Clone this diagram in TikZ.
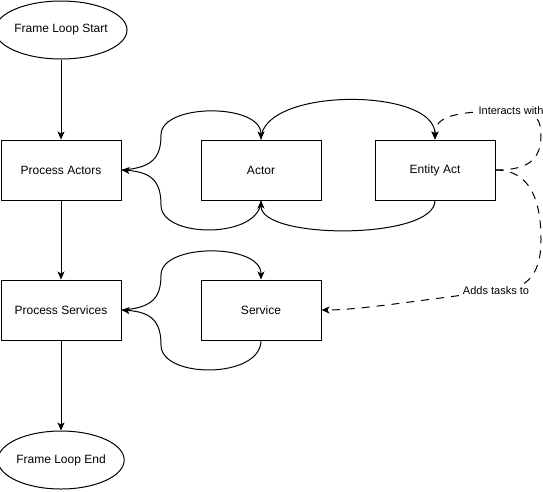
\documentclass[tikz,border=0pt]{standalone}
\usepackage{fontspec}
\setmainfont{Liberation Sans}
\usetikzlibrary{arrows.meta,shapes.geometric}
\begin{document}
\begin{tikzpicture}[x=1pt,y=-1pt,
  box/.style={draw,line width=1pt,minimum width=120pt,minimum height=60pt,inner sep=0pt,font=\fontsize{12}{14}\selectfont},
  oval/.style={draw,ellipse,line width=1pt,minimum width=120pt,minimum height=58pt,inner sep=0pt,font=\fontsize{12}{14}\selectfont},
  conn/.style={line width=1pt,-{Stealth[length=8pt,width=7pt,inset=2pt]}},
  dconn/.style={conn,dash pattern=on 8pt off 7pt},
  lbl/.style={fill=white,inner sep=1pt,font=\fontsize{11}{13}\selectfont}]
\useasboundingbox (0,0) rectangle (543,491);
\node[oval] (start) at (61,30) {Frame Loop Start};
\node[box] (pa) at (61,170) {Process Actors};
\node[box] (actor) at (261,170) {Actor};
\node[box] (ea) at (435,170) {Entity Act};
\node[box] (ps) at (61,310) {Process Services};
\node[box] (svc) at (261,310) {Service};
\node[oval] (end) at (61,460) {Frame Loop End};

\draw[conn] (start) -- (pa);
\draw[conn] (pa) -- (ps);
\draw[conn] (ps) -- (end);

% actor loop
\draw[conn] (pa.east) .. controls (152,168) and (161,158) .. (161,135)
   .. controls (161,103) and (261,103) .. (actor.north);
\draw[conn] (actor.north) .. controls (261,87) and (435,87) .. (ea.north);
\draw[conn] (ea.south) .. controls (435,240) and (261,240) .. (actor.south);
\draw[conn] (actor.south) .. controls (261,239) and (161,239) .. (161,205)
   .. controls (161,182) and (152,172) .. (pa.east);

% service loop
\draw[conn] (ps.east) .. controls (152,308) and (161,298) .. (161,275)
   .. controls (161,243) and (261,243) .. (svc.north);
\draw[conn] (svc.south) .. controls (261,379) and (161,379) .. (161,345)
   .. controls (161,322) and (152,312) .. (ps.east);

% dashed
\draw[dconn] (ea.east) .. controls (528,170) and (541,160) .. (541,135)
   .. controls (541,112) and (528,111) .. (511,111)
   .. controls (455,111) and (435,116) .. (ea.north);
\node[lbl] (l1) at (511,111) {Interacts with};
\draw[dconn] (ea.east) .. controls (530,170) and (541,200) .. (541,240)
   .. controls (541,280) and (522,290) .. (496,291)
   .. controls (420,300) and (360,310) .. (svc.east);
\node[lbl] (l2) at (496,291) {Adds tasks to};
\end{tikzpicture}
\end{document}
